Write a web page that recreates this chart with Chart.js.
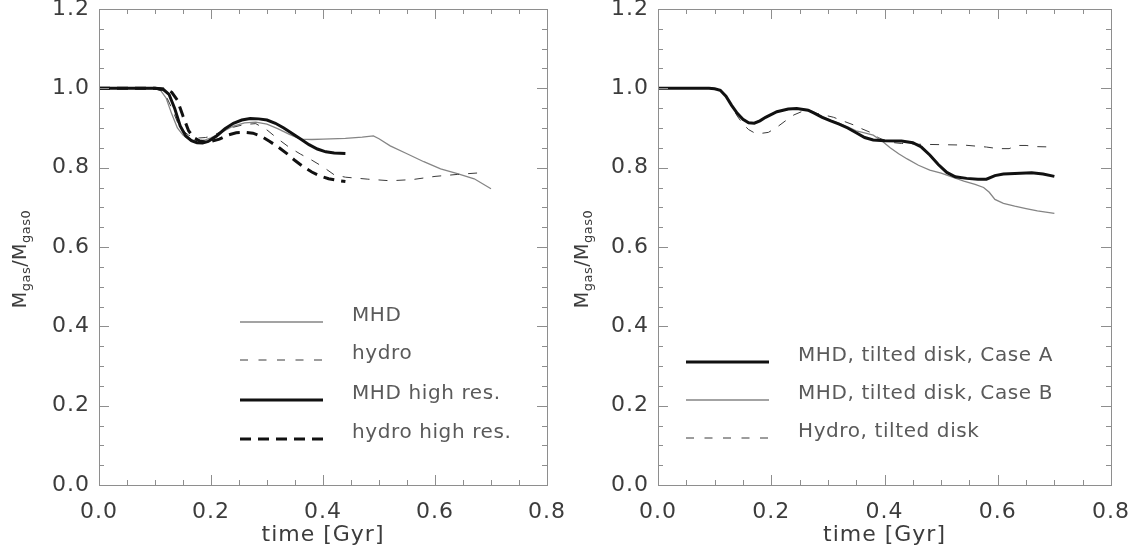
<!DOCTYPE html>
<html lang="en">
<head>
<meta charset="UTF-8">
<title>Gas mass fraction vs time</title>
<script src="https://cdn.jsdelivr.net/npm/chart.js@4.4.0/dist/chart.umd.min.js"></script>
<style>
    html, body { margin: 0; padding: 0; background: #fff; }
    .panel { position: absolute; top: 0; width: 565px; height: 554px; }
    #leftPanel { left: 0; }
    #rightPanel { left: 565px; }
</style>
</head>
<body>
<div class="panel" id="leftPanel"><canvas id="leftChart"></canvas></div>
<div class="panel" id="rightPanel"><canvas id="rightChart"></canvas></div>

<script>
// axis ticks
const xTicks = [0.0, 0.2, 0.4, 0.6, 0.8];
const yTicks = [0.0, 0.2, 0.4, 0.6, 0.8, 1.0, 1.2];

// left panel
const mhdTime = [0, 0.05, 0.10, 0.11, 0.12, 0.13, 0.14, 0.15, 0.16, 0.17, 0.18, 0.19, 0.20, 0.22, 0.24, 0.26, 0.28, 0.30, 0.32, 0.34, 0.36, 0.38, 0.40, 0.44, 0.47, 0.49, 0.50, 0.52, 0.55, 0.58, 0.61, 0.64, 0.67, 0.70];
const mhdMass = [1.0, 1.0, 0.999, 0.995, 0.975, 0.935, 0.900, 0.882, 0.872, 0.868, 0.868, 0.870, 0.875, 0.890, 0.905, 0.913, 0.915, 0.910, 0.898, 0.884, 0.872, 0.871, 0.872, 0.874, 0.877, 0.880, 0.873, 0.855, 0.835, 0.815, 0.797, 0.785, 0.772, 0.747];

const hydroTime = [0, 0.05, 0.10, 0.11, 0.12, 0.13, 0.14, 0.15, 0.16, 0.17, 0.18, 0.19, 0.20, 0.22, 0.24, 0.26, 0.28, 0.30, 0.32, 0.34, 0.36, 0.38, 0.40, 0.42, 0.44, 0.48, 0.52, 0.56, 0.60, 0.64, 0.68];
const hydroMass = [1.0, 1.0, 0.999, 0.995, 0.980, 0.950, 0.915, 0.893, 0.882, 0.877, 0.875, 0.876, 0.879, 0.892, 0.902, 0.909, 0.911, 0.895, 0.872, 0.851, 0.834, 0.819, 0.802, 0.782, 0.776, 0.771, 0.767, 0.770, 0.778, 0.783, 0.787];

const mhdHiTime = [0, 0.05, 0.10, 0.115, 0.125, 0.135, 0.145, 0.155, 0.165, 0.175, 0.185, 0.195, 0.21, 0.225, 0.24, 0.255, 0.27, 0.285, 0.30, 0.315, 0.33, 0.345, 0.36, 0.375, 0.39, 0.405, 0.42, 0.44];
const mhdHiMass = [1.0, 1.0, 1.0, 0.997, 0.985, 0.950, 0.905, 0.880, 0.868, 0.863, 0.862, 0.866, 0.880, 0.898, 0.912, 0.920, 0.924, 0.923, 0.920, 0.912, 0.900, 0.886, 0.872, 0.858, 0.847, 0.840, 0.837, 0.836];

const hydroHiTime = [0, 0.05, 0.10, 0.12, 0.13, 0.14, 0.15, 0.16, 0.17, 0.18, 0.19, 0.20, 0.215, 0.23, 0.245, 0.26, 0.275, 0.29, 0.305, 0.32, 0.335, 0.35, 0.365, 0.38, 0.395, 0.41, 0.425, 0.44];
const hydroHiMass = [1.0, 1.0, 1.0, 0.998, 0.990, 0.970, 0.930, 0.893, 0.875, 0.867, 0.865, 0.866, 0.872, 0.882, 0.888, 0.889, 0.887, 0.879, 0.866, 0.852, 0.836, 0.818, 0.802, 0.789, 0.779, 0.772, 0.768, 0.765];

// right panel
const caseATime = [0, 0.05, 0.09, 0.10, 0.11, 0.12, 0.13, 0.14, 0.15, 0.16, 0.17, 0.18, 0.19, 0.21, 0.23, 0.245, 0.265, 0.275, 0.29, 0.305, 0.32, 0.335, 0.35, 0.365, 0.38, 0.40, 0.43, 0.45, 0.465, 0.48, 0.495, 0.51, 0.525, 0.545, 0.565, 0.58, 0.595, 0.61, 0.63, 0.66, 0.68, 0.70];
const caseAMass = [1.0, 1.0, 1.0, 0.999, 0.995, 0.980, 0.957, 0.937, 0.922, 0.913, 0.912, 0.918, 0.927, 0.941, 0.948, 0.949, 0.945, 0.938, 0.927, 0.918, 0.910, 0.900, 0.888, 0.876, 0.870, 0.868, 0.867, 0.863, 0.852, 0.832, 0.808, 0.788, 0.777, 0.773, 0.771, 0.771, 0.780, 0.784, 0.785, 0.787, 0.784, 0.778];

const caseBTime = [0, 0.05, 0.09, 0.10, 0.11, 0.12, 0.13, 0.14, 0.15, 0.16, 0.17, 0.18, 0.19, 0.21, 0.23, 0.245, 0.265, 0.275, 0.29, 0.305, 0.32, 0.335, 0.35, 0.365, 0.38, 0.395, 0.41, 0.425, 0.44, 0.46, 0.48, 0.50, 0.52, 0.54, 0.56, 0.575, 0.585, 0.595, 0.61, 0.63, 0.65, 0.67, 0.70];
const caseBMass = [1.0, 1.0, 1.0, 0.999, 0.995, 0.980, 0.957, 0.937, 0.922, 0.914, 0.913, 0.919, 0.928, 0.941, 0.947, 0.948, 0.946, 0.940, 0.929, 0.920, 0.912, 0.903, 0.893, 0.888, 0.882, 0.868, 0.850, 0.835, 0.822, 0.806, 0.794, 0.786, 0.776, 0.766, 0.758, 0.750, 0.738, 0.720, 0.710, 0.703, 0.697, 0.691, 0.685];

const tiltHydroTime = [0, 0.05, 0.09, 0.10, 0.11, 0.12, 0.13, 0.14, 0.15, 0.16, 0.17, 0.18, 0.195, 0.21, 0.225, 0.24, 0.255, 0.27, 0.29, 0.31, 0.33, 0.345, 0.36, 0.375, 0.39, 0.41, 0.43, 0.46, 0.50, 0.54, 0.58, 0.60, 0.62, 0.635, 0.65, 0.67, 0.70];
const tiltHydroMass = [1.0, 1.0, 1.0, 0.999, 0.995, 0.980, 0.955, 0.930, 0.910, 0.896, 0.888, 0.886, 0.889, 0.902, 0.918, 0.933, 0.942, 0.940, 0.934, 0.927, 0.916, 0.908, 0.898, 0.889, 0.875, 0.864, 0.861, 0.859, 0.858, 0.857, 0.852, 0.848, 0.848, 0.856, 0.856, 0.853, 0.852];

const FONT = '"DejaVu Sans", "Liberation Sans", sans-serif';

function points(ts, vs) {
    return ts.map((t, i) => ({ x: t, y: vs[i] }));
}

// wider glyph spacing for all axis text, like the IDL font
const spacing = {
    id: 'spacing',
    beforeDraw(chart) { chart.ctx.letterSpacing = '1px'; }
};

// frame box with inward ticks on all four sides
const frameTicks = {
    id: 'frameTicks',
    afterDatasetsDraw(chart) {
        const { ctx, chartArea: a, scales: { x, y } } = chart;
        ctx.save();
        ctx.strokeStyle = '#8e8e8e';
        ctx.lineWidth = 1;
        ctx.strokeRect(Math.round(a.left) + 0.5, Math.round(a.top) + 0.5,
            Math.round(a.right - a.left), Math.round(a.bottom - a.top));
        ctx.beginPath();
        for (let i = 0; i <= 16; i++) {
            const px = Math.round(x.getPixelForValue(i * 0.05)) + 0.5;
            const len = i % 4 === 0 ? 10 : 5;
            ctx.moveTo(px, a.bottom); ctx.lineTo(px, a.bottom - len);
            ctx.moveTo(px, a.top); ctx.lineTo(px, a.top + len);
        }
        for (let i = 0; i <= 24; i++) {
            const py = Math.round(y.getPixelForValue(i * 0.05)) + 0.5;
            const len = i % 4 === 0 ? 10 : 5;
            ctx.moveTo(a.left, py); ctx.lineTo(a.left + len, py);
            ctx.moveTo(a.right, py); ctx.lineTo(a.right - len, py);
        }
        ctx.stroke();
        ctx.restore();
    }
};

// y title with subscripts: M_gas / M_gas0
const massTitle = {
    id: 'massTitle',
    afterDraw(chart, args, opts) {
        const ctx = chart.ctx;
        const parts = [['M', 19, 0], ['gas', 13, 4], ['/', 19, 0], ['M', 19, 0], ['gas0', 13, 4]];
        ctx.save();
        ctx.letterSpacing = '0.5px';
        ctx.translate(opts.x, opts.y);
        ctx.rotate(-Math.PI / 2);
        let total = 0;
        parts.forEach(p => { ctx.font = p[1] + 'px ' + FONT; total += ctx.measureText(p[0]).width; });
        let pos = -total / 2;
        ctx.fillStyle = '#3c3c3c';
        ctx.textBaseline = 'alphabetic';
        ctx.textAlign = 'left';
        parts.forEach(p => {
            ctx.font = p[1] + 'px ' + FONT;
            ctx.fillText(p[0], pos, 6 + p[2]);
            pos += ctx.measureText(p[0]).width;
        });
        ctx.restore();
    }
};

// legend drawn inside the plot box
const inlineLegend = {
    id: 'inlineLegend',
    afterDatasetsDraw(chart, args, opts) {
        const ctx = chart.ctx;
        ctx.save();
        chart.data.datasets.forEach((ds, i) => {
            const y = opts.rows[i];
            ctx.beginPath();
            ctx.strokeStyle = ds.borderColor;
            ctx.lineWidth = ds.borderWidth;
            ctx.setLineDash(ds.legendDash || []);
            ctx.moveTo(opts.x0, y);
            ctx.lineTo(opts.x1, y);
            ctx.stroke();
            ctx.setLineDash([]);
            ctx.fillStyle = '#5a5a5a';
            ctx.font = '20px ' + FONT;
            ctx.letterSpacing = '0.6px';
            ctx.textBaseline = 'middle';
            ctx.textAlign = 'left';
            ctx.fillText(ds.label, opts.textX, y - 6);
        });
        ctx.restore();
    }
};

function makeOptions(yAxisWidth, rightPad, legendOpts, titleX) {
    return {
        responsive: true,
        maintainAspectRatio: false,
        animation: false,
        layout: { padding: { top: 9, right: rightPad, left: 0, bottom: 0 } },
        elements: { point: { radius: 0 } },
        plugins: {
            legend: { display: false },
            tooltip: { enabled: false },
            inlineLegend: legendOpts,
            massTitle: { x: titleX, y: 259 }
        },
        scales: {
            x: {
                type: 'linear',
                min: 0, max: 0.8,
                grid: { display: false, drawTicks: false },
                border: { display: false },
                afterBuildTicks: s => { s.ticks = xTicks.map(v => ({ value: v })); },
                ticks: {
                    padding: 14,
                    color: '#3c3c3c',
                    font: { family: FONT, size: 22 },
                    callback: v => Number(v).toFixed(1)
                },
                title: {
                    display: true,
                    text: 'time [Gyr]',
                    color: '#3c3c3c',
                    font: { family: FONT, size: 22 },
                    padding: { top: 0, bottom: 6 }
                },
                afterFit: s => { s.height = 69; s.paddingLeft = 0; s.paddingRight = 0; }
            },
            y: {
                type: 'linear',
                min: 0, max: 1.2,
                grid: { display: false, drawTicks: false },
                border: { display: false },
                afterBuildTicks: s => { s.ticks = yTicks.map(v => ({ value: v })); },
                ticks: {
                    padding: 9,
                    color: '#3c3c3c',
                    font: { family: FONT, size: 22 },
                    callback: v => Number(v).toFixed(1)
                },
                afterFit: s => { s.width = yAxisWidth; s.paddingTop = 0; s.paddingBottom = 0; }
            }
        }
    };
}

const thinGray = '#858585';
const thinDark = '#3a3a3a';
const thick = '#111';

new Chart(document.getElementById('leftChart'), {
    type: 'line',
    data: {
        datasets: [
            { label: 'MHD', data: points(mhdTime, mhdMass), borderColor: thinGray, borderWidth: 1.3, order: 3 },
            { label: 'hydro', data: points(hydroTime, hydroMass), borderColor: thinDark, borderWidth: 1,
              borderDash: [9, 9], legendDash: [8, 10.5], order: 2 },
            { label: 'MHD high res.', data: points(mhdHiTime, mhdHiMass), borderColor: thick, borderWidth: 3, order: 0 },
            { label: 'hydro high res.', data: points(hydroHiTime, hydroHiMass), borderColor: thick, borderWidth: 3,
              borderDash: [11, 7], legendDash: [11, 7], order: 1 }
        ]
    },
    options: makeOptions(99, 18, { x0: 240, x1: 323, textX: 352, rows: [322, 360, 400, 439] }, 20),
    plugins: [spacing, frameTicks, massTitle, inlineLegend]
});

new Chart(document.getElementById('rightChart'), {
    type: 'line',
    data: {
        datasets: [
            { label: 'MHD, tilted disk, Case A', data: points(caseATime, caseAMass), borderColor: thick, borderWidth: 3, order: 0 },
            { label: 'MHD, tilted disk, Case B', data: points(caseBTime, caseBMass), borderColor: thinGray, borderWidth: 1.3, order: 1 },
            { label: 'Hydro, tilted disk', data: points(tiltHydroTime, tiltHydroMass), borderColor: thinDark, borderWidth: 1,
              borderDash: [9, 9], legendDash: [8, 10.5], order: 2 }
        ]
    },
    options: makeOptions(93, 19, { x0: 121, x1: 204, textX: 233, rows: [362, 400, 438] }, 17),
    plugins: [spacing, frameTicks, massTitle, inlineLegend]
});
</script>
</body>
</html>
